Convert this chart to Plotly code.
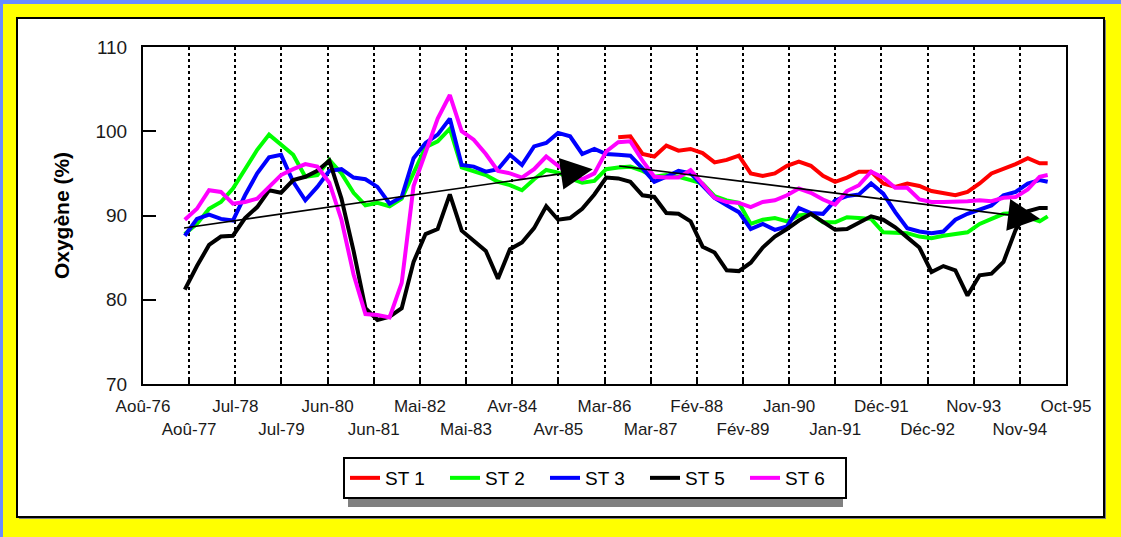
import pandas as pd
import plotly.graph_objects as go

# quarterly sampling dates shared by all stations
dates = ['1977-07-01', '1977-10-01',
         '1978-01-01', '1978-04-01', '1978-07-01', '1978-10-01',
         '1979-01-01', '1979-04-01', '1979-07-01', '1979-10-01',
         '1980-01-01', '1980-04-01', '1980-07-01', '1980-10-01',
         '1981-01-01', '1981-04-01', '1981-07-01', '1981-10-01',
         '1982-01-01', '1982-04-01', '1982-07-01', '1982-10-01',
         '1983-01-01', '1983-04-01', '1983-07-01', '1983-10-01',
         '1984-01-01', '1984-04-01', '1984-07-01', '1984-10-01',
         '1985-01-01', '1985-04-01', '1985-07-01', '1985-10-01',
         '1986-01-01', '1986-04-01', '1986-07-01', '1986-10-01',
         '1987-01-01', '1987-04-01', '1987-07-01', '1987-10-01',
         '1988-01-01', '1988-04-01', '1988-07-01', '1988-10-01',
         '1989-01-01', '1989-04-01', '1989-07-01', '1989-10-01',
         '1990-01-01', '1990-04-01', '1990-07-01', '1990-10-01',
         '1991-01-01', '1991-04-01', '1991-07-01', '1991-10-01',
         '1992-01-01', '1992-04-01', '1992-07-01', '1992-10-01',
         '1993-01-01', '1993-04-01', '1993-07-01', '1993-10-01',
         '1994-01-01', '1994-04-01', '1994-07-01', '1994-10-01',
         '1995-01-01', '1995-04-01', '1995-06-01']

st1 = [None] * 36 + [
    99.3, 99.4,
    97.3, 97.0, 98.3, 97.7,
    97.9, 97.4, 96.3, 96.6,
    97.1, 95.0, 94.7, 95.0,
    95.9, 96.4, 95.9, 94.7,
    94.0, 94.5, 95.2, 95.2,
    93.8, 93.4, 93.8, 93.5,
    92.9, 92.6, 92.4, 92.8,
    93.8, 95.0, 95.5, 96.1,
    96.8, 96.2, 96.2]

st2 = [87.8, 89.0,
       90.8, 91.6, 93.2, 95.5,
       97.8, 99.6, 98.4, 97.2,
       94.6, 94.8, 96.6, 95.0,
       92.7, 91.2, 91.5, 91.1,
       92.0, 95.0, 98.1, 98.8,
       100.3, 95.7, 95.2, 94.8,
       94.0, 93.6, 93.0, 94.3,
       95.4, 95.1, 94.4, 93.9,
       94.1, 95.5, 95.7, 95.8,
       95.3, 94.6, 94.8, 94.6,
       94.2, 93.8, 92.3, 91.8,
       91.5, 89.0, 89.5, 89.7,
       89.3, 90.0, 90.2, 89.2,
       89.2, 89.8, 89.7, 89.6,
       88.0, 88.0, 87.9, 87.5,
       87.3, 87.6, 87.8, 88.0,
       89.0, 89.6, 90.2, 90.3,
       89.8, 89.3, 89.9]

st3 = [87.6, 89.6,
       90.1, 89.6, 89.4, 92.4,
       95.0, 96.9, 97.2, 94.0,
       91.8, 93.4, 95.3, 95.5,
       94.5, 94.3, 93.4, 91.4,
       92.2, 96.8, 98.6, 99.6,
       101.5, 96.0, 95.8, 95.2,
       95.5, 97.2, 96.0, 98.2,
       98.6, 99.8, 99.4, 97.3,
       97.9, 97.3, 97.2, 97.1,
       95.6, 94.0, 94.6, 95.3,
       95.0, 93.5, 92.1, 91.2,
       90.4, 88.4, 89.0, 88.3,
       88.7, 90.9, 90.3, 90.2,
       91.8, 92.3, 92.5, 93.8,
       92.6, 90.4, 88.5, 88.1,
       87.9, 88.1, 89.5, 90.2,
       90.7, 91.2, 92.4, 92.8,
       93.8, 94.2, 94.0]

st5 = [81.2, 84.0,
       86.5, 87.5, 87.6, 89.7,
       91.0, 93.0, 92.7, 94.2,
       94.6, 95.3, 96.5, 92.0,
       85.8, 79.0, 77.6, 78.0,
       79.0, 84.5, 87.8, 88.4,
       92.5, 88.2, 87.0, 85.8,
       82.5, 86.0, 86.8, 88.5,
       91.1, 89.5, 89.7, 90.8,
       92.5, 94.5, 94.4, 94.0,
       92.4, 92.2, 90.3, 90.2,
       89.3, 86.3, 85.6, 83.5,
       83.4, 84.4, 86.2, 87.5,
       88.4, 89.4, 90.2, 89.2,
       88.3, 88.4, 89.1, 89.9,
       89.5, 88.6, 87.4, 86.2,
       83.3, 84.0, 83.5, 80.5,
       82.9, 83.1, 84.5, 88.3,
       90.5, 90.9, 90.9]

st6 = [89.5, 90.8,
       93.0, 92.8, 91.4, 91.6,
       92.0, 93.4, 94.8, 95.5,
       96.1, 95.8, 93.9, 89.5,
       83.0, 78.3, 78.2, 77.9,
       82.0, 93.5, 97.6, 101.5,
       104.3, 100.0, 99.0, 97.3,
       95.3, 95.0, 94.5, 95.5,
       97.0, 95.9, 95.0, 94.3,
       95.0, 97.6, 98.7, 98.8,
       96.5, 94.6, 94.5, 94.5,
       95.4, 93.7, 92.1, 91.6,
       91.5, 91.0, 91.6, 91.8,
       92.4, 93.2, 92.7, 91.9,
       91.3, 92.9, 93.6, 95.2,
       94.5, 93.3, 93.3, 91.9,
       91.6, 91.6, 91.6, 91.7,
       91.8, 91.7, 92.1, 92.2,
       93.1, 94.6, 94.8]

series_names = ['ST 1', 'ST 2', 'ST 3', 'ST 5', 'ST 6']
series_values = [st1, st2, st3, st5, st6]
series_colors = ['#ff0000', '#00ff00', '#0000ff', '#000000', '#ff00ff']

# trend arrows: (tail date, tail value) -> (head date, head value)
trend_tails = [('1977-06-14', 88.5), ('1986-06-27', 95.9)]
trend_heads = [('1985-12-20', 95.5), ('1995-04-04', 89.6)]

tick_labels = ['Aoû-76', 'Aoû-77', 'Jul-78', 'Jul-79', 'Jun-80', 'Jun-81',
               'Mai-82', 'Mai-83', 'Avr-84', 'Avr-85', 'Mar-86', 'Mar-87',
               'Fév-88', 'Fév-89', 'Jan-90', 'Jan-91', 'Déc-91', 'Déc-92',
               'Nov-93', 'Nov-94', 'Oct-95']
tick_start = pd.Timestamp('1976-08-18')
tick_dates = [(tick_start + pd.Timedelta(days=350 * k)).strftime('%Y-%m-%d')
              for k in range(len(tick_labels))]

W, H = 1121, 537
ML, MR, MT, MB = 143, 55, 47, 153
PW, PH = W - ML - MR, H - MT - MB
FONT = 'Liberation Sans, Arial, sans-serif'


def px_x(p):
    return (p - ML) / PW


def px_y(p):
    return (H - MB - p) / PH


fig = go.Figure()
for i, (name, vals, col) in enumerate(zip(series_names, series_values, series_colors)):
    # last station goes on the overlaid axis that carries the second row of labels
    xa = 'x2' if i == len(series_names) - 1 else 'x'
    fig.add_trace(go.Scatter(x=dates, y=vals, name=name, mode='lines', xaxis=xa,
                             line=dict(color=col, width=4), connectgaps=False))

for (tx, ty), (hx, hy) in zip(trend_tails, trend_heads):
    fig.add_annotation(x=hx, y=hy, ax=tx, ay=ty, xref='x', yref='y',
                       axref='x', ayref='y', text='', showarrow=True,
                       arrowhead=2, arrowsize=4.0, arrowwidth=1.6,
                       arrowcolor='black')

shapes = [
    # blue page edges
    dict(type='rect', xref='paper', yref='paper', x0=px_x(0), x1=px_x(W),
         y0=px_y(0), y1=px_y(4), fillcolor='#6a8cff', line_width=0, layer='above'),
    dict(type='rect', xref='paper', yref='paper', x0=px_x(0), x1=px_x(3),
         y0=px_y(0), y1=px_y(H), fillcolor='#6a8cff', line_width=0, layer='above'),
    # white panel with shadow
    dict(type='rect', xref='paper', yref='paper', x0=px_x(19), x1=px_x(1106),
         y0=px_y(20), y1=px_y(519), fillcolor='#808080', line_width=0, layer='below'),
    dict(type='rect', xref='paper', yref='paper', x0=px_x(17), x1=px_x(1104),
         y0=px_y(18), y1=px_y(517), fillcolor='white',
         line=dict(color='black', width=2), layer='below'),
    # legend shadow
    dict(type='rect', xref='paper', yref='paper', x0=px_x(348), x1=px_x(843),
         y0=px_y(462), y1=px_y(507), fillcolor='#808080', line_width=0, layer='above'),
]

even_text = [t if i % 2 == 0 else '' for i, t in enumerate(tick_labels)]

fig.update_layout(
    width=W, height=H,
    margin=dict(l=ML, r=MR, t=MT, b=MB),
    paper_bgcolor='#ffff00', plot_bgcolor='white',
    font=dict(family=FONT, color='#1a1a1a'),
    shapes=shapes,
    showlegend=True,
    legend=dict(orientation='h', x=px_x(343), y=px_y(457), xanchor='left', yanchor='top',
                bgcolor='white', bordercolor='black', borderwidth=2,
                font=dict(family=FONT, size=19, color='black'),
                entrywidth=55, traceorder='normal'),
    xaxis=dict(type='date', range=[tick_dates[0], tick_dates[-1]],
               tickmode='array', tickvals=tick_dates, ticktext=even_text,
               ticks='inside', ticklen=6, tickwidth=1.5, tickcolor='black',
               showgrid=True, gridcolor='black', griddash='dot', gridwidth=1.5,
               showline=True, linecolor='black', linewidth=2, mirror=True,
               tickfont=dict(size=17, family=FONT, color='#1a1a1a'),
               ticklabelstandoff=6, zeroline=False),
    xaxis2=dict(type='date', overlaying='x', matches='x', anchor='y', side='bottom',
                tickmode='array', tickvals=tick_dates[1::2], ticktext=tick_labels[1::2],
                ticks='', showgrid=False, showline=False, zeroline=False,
                tickfont=dict(size=17, family=FONT, color='#1a1a1a'),
                ticklabelstandoff=33),
    yaxis=dict(range=[70, 110], tickvals=[70, 80, 90, 100, 110],
               ticks='inside', ticklen=13, tickwidth=2, tickcolor='black',
               showgrid=False, showline=True, linecolor='black', linewidth=2,
               mirror=True, zeroline=False,
               tickfont=dict(size=19, family=FONT, color='#1a1a1a'),
               ticklabelstandoff=10,
               title=dict(text='<b>Oxygène (%)</b>', standoff=20,
                          font=dict(size=21, family=FONT, color='black'))),
)

fig.write_html('out.html', config={'displayModeBar': False},
               post_script="document.body.style.margin='0';")
